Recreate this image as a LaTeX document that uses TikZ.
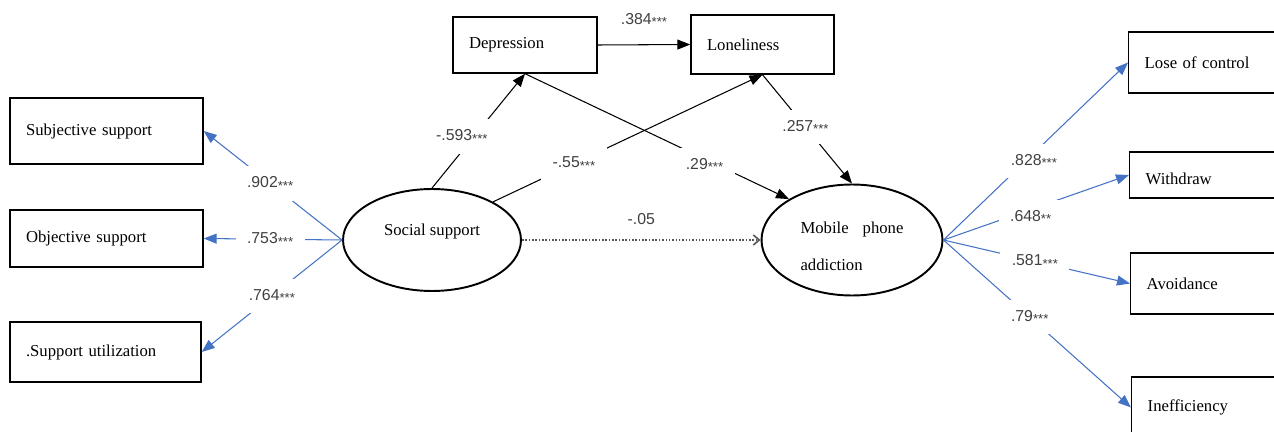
\documentclass[tikz,border=0pt]{standalone}
\usepackage{fontspec}
\setmainfont{Liberation Serif}
\newfontfamily\lblfamily{Liberation Sans}
\usetikzlibrary{arrows.meta,shapes.geometric}
\definecolor{pathblue}{HTML}{4472C4}
\definecolor{lblgray}{HTML}{404040}
\definecolor{dotgray}{HTML}{555555}
\newcommand{\sig}[1]{\raisebox{-1.5pt}{\fontsize{7.5}{8}\selectfont #1}}

\begin{document}
\begin{tikzpicture}[x=0.02cm, y=-0.02cm, line width=0.6pt,
  box/.style={draw, line width=0.8pt, align=left, inner xsep=0.32cm, inner ysep=0pt,
    font=\fontsize{9.5}{21}\selectfont},
  latent/.style={draw, ellipse, line width=1.1pt, inner sep=0pt,
    font=\fontsize{9.5}{21}\selectfont},
  lbl/.style={font=\lblfamily\fontsize{9}{10}\selectfont, text=lblgray, fill=white,
    inner xsep=6.5pt, inner ysep=6pt},
  load/.style={draw=pathblue, -{Triangle[length=0.26cm, width=0.2cm]}},
  reg/.style={draw=black, -{Triangle[length=0.26cm, width=0.2cm]}}]
  \useasboundingbox (0,0) rectangle (1274,432);
  % social support and its indicators
  \node[latent, minimum width=3.56cm, minimum height=2.04cm,
    text height=0.25cm, text depth=0.45cm] (ss) at (432,240) {Social support};
  \node[box, text width=3.22cm, minimum height=1.32cm] (subj) at (106.5,131) {Subjective support};
  \node[box, text width=3.22cm, minimum height=1.14cm] (obj) at (106.5,238.5) {Objective support};
  \node[box, text width=3.18cm, minimum height=1.2cm] (util) at (105.5,352) {.Support utilization};
  % mediators
  \node[box, text width=2.24cm, minimum height=1.12cm] (dep) at (525,45) {Depression};
  \node[box, text width=2.22cm, minimum height=1.18cm] (lon) at (762.5,44.5) {Loneliness};
  % mobile phone addiction and its indicators
  \node[latent, minimum width=3.62cm, minimum height=2.22cm, text width=2.06cm,
    text height=0.47cm, align=left] (mpa) at (852,240) {Mobile\hfill phone\\addiction};
  \node[box, anchor=west, text width=3cm, minimum height=1.22cm] (lose) at (1128,62.5) {Lose of control};
  \node[box, anchor=west, text width=3cm, minimum height=0.92cm,
    text height=0.4cm] (wd) at (1129,175) {Withdraw};
  \node[box, anchor=west, text width=3cm, minimum height=1.22cm] (avo) at (1130,283.5) {Avoidance};
  \node[box, anchor=west, text width=3cm, minimum height=1.22cm] (ineff) at (1131,407.5) {Inefficiency};

  % loadings of social support
  \draw[load] (ss.west) -- (subj.east) node[lbl, pos=0.52] {.902\sig{***}};
  \draw[load] (ss.west) -- (obj.east) node[lbl, pos=0.52] {.753\sig{***}};
  \draw[load] (ss.west) -- (util.east) node[lbl, pos=0.5] {.764\sig{***}};
  % structural paths
  \draw[reg] (ss.north) -- (dep.south) node[lbl, pos=0.45, xshift=-0.24cm] {-.593\sig{***}};
  \draw[reg] (ss.32) -- (lon.south) node[lbl, pos=0.3] {-.55\sig{***}};
  \draw[reg] (dep.south) -- (mpa.147) node[lbl, pos=0.68, yshift=-0.12cm] {.29\sig{***}};
  \draw[reg] (lon.south) -- (mpa.north) node[lbl, pos=0.48] {.257\sig{***}};
  \draw[reg] (dep.east) -- (lon.west) node[lbl, midway, above, yshift=0.14cm] {.384\sig{***}};
  \draw[draw=dotgray, densely dotted, line width=0.9pt,
    -{Straight Barb[length=0.12cm, width=0.2cm]}] (ss.east) -- (mpa.west)
    node[lbl, midway, above, yshift=0.09cm] {-.05};
  % loadings of mobile phone addiction
  \draw[load] (mpa.east) -- (lose.west) node[lbl, pos=0.49, yshift=-0.16cm] {.828\sig{***}};
  \draw[load] (mpa.east) -- (wd.west) node[lbl, pos=0.47, yshift=-0.15cm] {.648\sig{**}};
  \draw[load] (mpa.east) -- (avo.west) node[lbl, pos=0.49] {.581\sig{***}};
  \draw[load] (mpa.east) -- (ineff.west) node[lbl, pos=0.46] {.79\sig{***}};
\end{tikzpicture}
\end{document}
